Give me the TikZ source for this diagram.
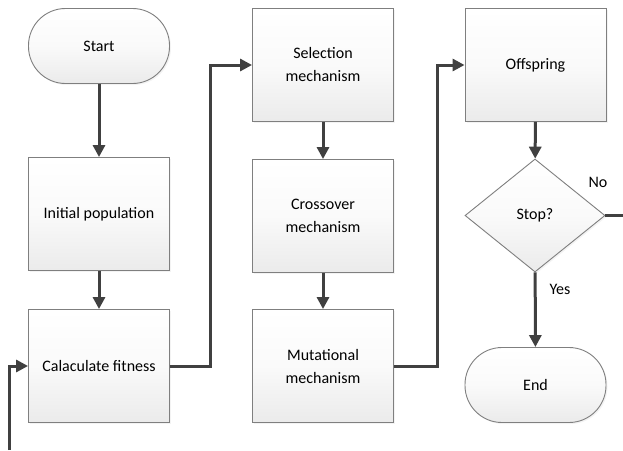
\documentclass[tikz,border=0pt]{standalone}
\usepackage{fontspec}
\setmainfont{Carlito}
\usetikzlibrary{shapes.geometric,arrows.meta,shadows}
\definecolor{edgegray}{HTML}{7F7F7F}
\definecolor{arrowgray}{HTML}{404040}
\tikzset{
  boxbase/.style={draw=edgegray, line width=0.9pt, top color=white, bottom color=black!8, middle color=black!2,
    font=\fontsize{16}{19}\selectfont, align=center, inner sep=0pt,
    drop shadow={shadow xshift=1.5pt, shadow yshift=-1.5pt, fill=black!8, opacity=0.6}},
  procbox/.style={boxbase, rectangle, minimum width=141pt, minimum height=113pt},
  termbox/.style={boxbase, rectangle, rounded corners=37pt, minimum width=141pt, minimum height=75pt},
  decbox/.style={boxbase, diamond, minimum width=140pt, minimum height=113pt, aspect=1.24},
  conn/.style={draw=arrowgray, line width=3pt, -{Triangle[length=12pt,width=12pt]}},
  connplain/.style={draw=arrowgray, line width=3pt},
  lbl/.style={font=\fontsize{16}{19}\selectfont}
}
\begin{document}
\begin{tikzpicture}[x=1pt,y=-1pt]
\useasboundingbox (0,0) rectangle (623,450);
\node[termbox] (start) at (99,46) {Start};
\node[procbox] (init) at (99,214) {Initial population};
\node[procbox] (fit) at (99,366) {Calaculate fitness};
\node[procbox] (sel) at (323,65) {Selection\\[4pt]mechanism};
\node[procbox] (cross) at (323,216) {Crossover\\[4pt]mechanism};
\node[procbox] (mut) at (323,366) {Mutational\\[4pt]mechanism};
\node[procbox] (off) at (535.5,65) {Offspring};
\node[decbox] (stop) at (535,215.5) {Stop?};
\node[termbox] (end) at (535.5,385) {End};
\coordinate (feedin) at (9,450);
\coordinate (noout) at (623,215.5);
\draw[conn] (start) -- (init);
\draw[conn] (init) -- (fit);
\draw[conn] (feedin) |- (fit.west);
\draw[conn] (fit.east) -- ++(41,0) |- (sel.west);
\draw[conn] (sel) -- (cross);
\draw[conn] (cross) -- (mut);
\draw[conn] (mut.east) -- ++(44,0) |- (off.west);
\draw[conn] (off) -- (stop);
\draw[conn] (stop) -- (end);
\node[lbl] (yeslbl) at (560,289) {Yes};
\draw[connplain] (stop.east) -- (noout);
\node[lbl] (nolbl) at (598,182) {No};
\end{tikzpicture}
\end{document}
